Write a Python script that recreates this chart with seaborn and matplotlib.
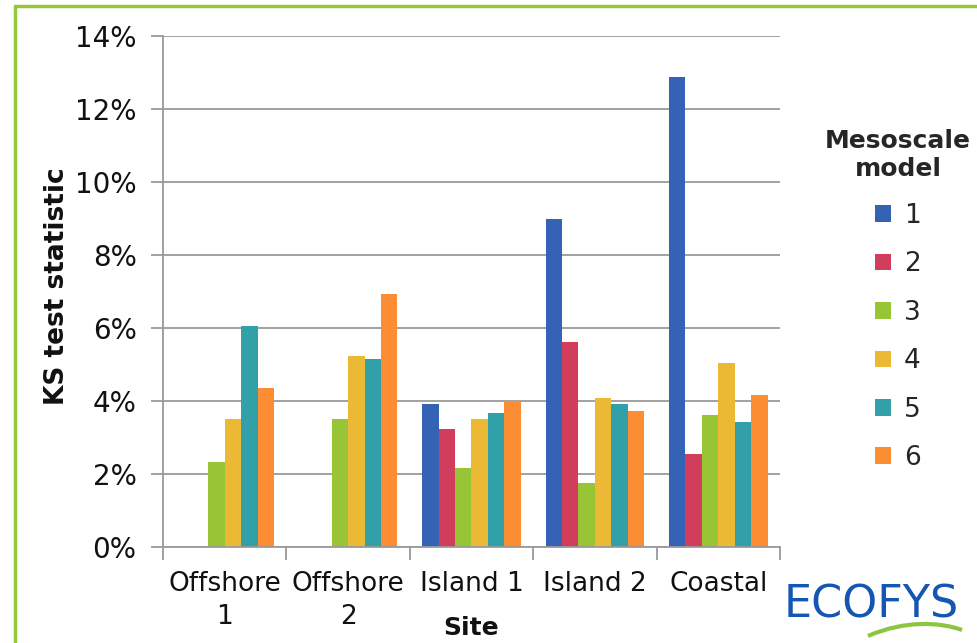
import numpy as np
import pandas as pd
import matplotlib
matplotlib.use("Agg")
import matplotlib.pyplot as plt
import seaborn as sns
from matplotlib.lines import Line2D
from matplotlib.path import Path
from matplotlib.patches import PathPatch
from matplotlib.ticker import PercentFormatter, FixedLocator

sites = ["Offshore\n1", "Offshore\n2", "Island 1", "Island 2", "Coastal"]
models = ["1", "2", "3", "4", "5", "6"]
model1 = [0.0, 0.0, 3.92, 8.98, 12.89]
model2 = [0.0, 0.0, 3.22, 5.61, 2.55]
model3 = [2.33, 3.50, 2.16, 1.74, 3.63]
model4 = [3.52, 5.23, 3.50, 4.09, 5.04]
model5 = [6.05, 5.15, 3.67, 3.92, 3.43]
model6 = [4.35, 6.93, 4.00, 3.72, 4.16]
colors = ["#3462b5", "#d23d5c", "#98c535", "#ecb935", "#31a0a8", "#fd8d33"]
yticks = [0, 2, 4, 6, 8, 10, 12, 14]

series = [model1, model2, model3, model4, model5, model6]
rows = []
for m, vals in zip(models, series):
    for s, v in zip(sites, vals):
        rows.append({"Site": s, "Model": m, "Value": v})
df = pd.DataFrame(rows)

sns.set_theme(style="white")
plt.rcParams["font.family"] = ["DejaVu Sans"]

W, H = 978, 643
fig = plt.figure(figsize=(W / 100, H / 100), dpi=100)
ax = fig.add_axes([163 / W, (H - 547) / H, (780 - 163) / W, (547 - 36) / H])

sns.barplot(data=df, x="Site", y="Value", hue="Model", order=sites,
            hue_order=models, palette=colors, saturation=1, width=0.8,
            linewidth=0, ax=ax, legend=True)

ax.set_ylim(0, 14)
ax.set_xlim(-0.5, 4.5)
ax.yaxis.set_major_locator(FixedLocator(yticks))
ax.yaxis.set_major_formatter(PercentFormatter(decimals=0))
ax.grid(axis="y", color="#9a9a9a", linewidth=1.3)
ax.set_axisbelow(True)
for sp in ["top", "right"]:
    ax.spines[sp].set_visible(False)
ax.spines["left"].set_color("#9a9a9a")
ax.spines["bottom"].set_color("#9a9a9a")
ax.spines["left"].set_linewidth(1.3)
ax.spines["bottom"].set_linewidth(1.3)

ax.tick_params(axis="y", which="major", length=9, width=1.3, color="#9a9a9a",
               labelsize=20, pad=10, left=True, labelcolor="#111111")
ax.tick_params(axis="x", which="major", length=0, labelsize=19, pad=17,
               labelcolor="#111111")
ax.set_xticks(np.arange(-0.5, 5.0, 1.0), minor=True)
ax.tick_params(axis="x", which="minor", length=9, width=1.3, color="#9a9a9a",
               bottom=True)
for t in ax.get_xticklabels():
    t.set_multialignment("center")
    t.set_linespacing(1.35)

ax.set_ylabel("KS test statistic", fontsize=19, fontweight="bold",
              color="#111111")
ax.yaxis.set_label_coords((70 - 163) / (780 - 163), 0.51)
ax.set_xlabel("Site", fontsize=18, fontweight="bold", color="#111111",
              va="center")
ax.xaxis.set_label_coords((471 - 163) / (780 - 163), -(628 - 547) / (547 - 36))

leg = ax.legend(title="Mesoscale\nmodel", loc="upper center",
                bbox_to_anchor=(898 / W, (H - 105) / H),
                bbox_transform=fig.transFigure, frameon=False,
                fontsize=19, title_fontsize=18, handlelength=0.6,
                handleheight=0.6, handletextpad=0.5, labelspacing=0.85)
leg.get_title().set_fontweight("bold")
leg.get_title().set_multialignment("center")
leg._legend_box.align = "center"

# Frame border (green) along top and left
fig.add_artist(Line2D([15 / W, 15 / W], [0, (H - 6) / H], color="#96c83c",
                      linewidth=2.5, transform=fig.transFigure))
fig.add_artist(Line2D([15 / W, 1], [(H - 6) / H, (H - 6) / H], color="#96c83c",
                      linewidth=2.5, transform=fig.transFigure))

# Logo
fig.text(871 / W, (H - 605) / H, "ECOFYS", color="#1656b3", fontsize=32,
         ha="center", va="center")
verts = [(868 / W, (H - 636) / H), (905 / W, (H - 620) / H),
         (940 / W, (H - 622) / H), (962 / W, (H - 630) / H)]
p = Path(verts, [Path.MOVETO, Path.CURVE4, Path.CURVE4, Path.CURVE4])
fig.add_artist(PathPatch(p, facecolor="none", edgecolor="#8cc63f",
                         linewidth=3, transform=fig.transFigure))

fig.savefig("out.png", dpi=100)
